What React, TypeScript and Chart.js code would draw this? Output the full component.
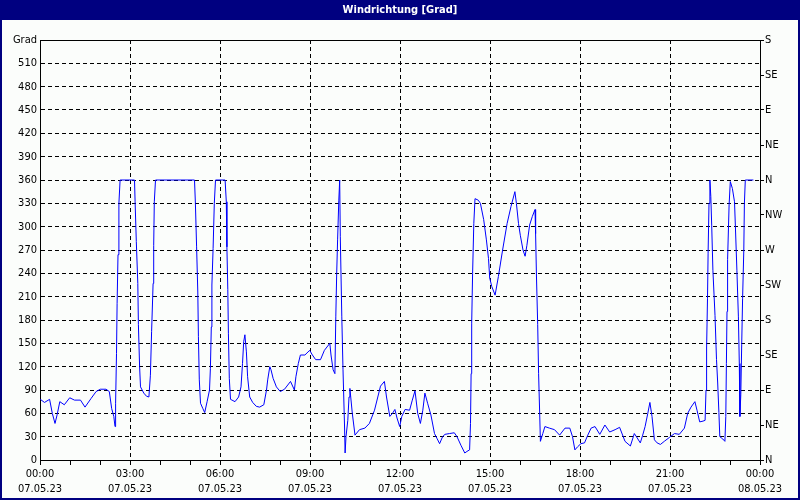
import React, { useEffect, useRef } from 'react';
import { Chart, registerables } from 'chart.js';

Chart.register(...registerables);

const TITLE = 'Windrichtung [Grad]';
const Y_UNIT = 'Grad';

const HOURS = [
  0.01, 0.15, 0.32, 0.41, 0.5, 0.57, 0.66, 0.81, 0.99, 1.15, 1.35, 1.5, 1.7, 1.87, 2.01, 2.2, 2.31, 2.39, 2.46, 2.5,
  2.52, 2.55, 2.57, 2.6, 2.63, 2.67, 3.15, 3.17, 3.21, 3.26, 3.28, 3.32, 3.35, 3.46, 3.55, 3.63, 3.68, 3.72, 3.77, 3.79,
  3.81, 3.85, 5.15, 5.18, 5.22, 5.26, 5.28, 5.31, 5.35, 5.43, 5.49, 5.57, 5.65, 5.68, 5.71, 5.73, 5.77, 5.81, 5.85, 6.17,
  6.21, 6.23, 6.26, 6.28, 6.31, 6.35, 6.5, 6.62, 6.7, 6.75, 6.79, 6.83, 6.88, 6.92, 6.99, 7.09, 7.21, 7.32, 7.46, 7.55,
  7.59, 7.66, 7.7, 7.77, 7.88, 8.01, 8.15, 8.35, 8.48, 8.53, 8.61, 8.68, 8.83, 8.99, 9.08, 9.19, 9.35, 9.48, 9.66, 9.7,
  9.77, 9.83, 9.86, 9.89, 9.92, 9.96, 9.99, 10.01, 10.06, 10.1, 10.15, 10.17, 10.2, 10.26, 10.3, 10.33, 10.41, 10.5, 10.65, 10.83,
  10.98, 11.15, 11.26, 11.35, 11.48, 11.55, 11.66, 11.75, 11.83, 11.9, 11.99, 12.06, 12.17, 12.32, 12.41, 12.5, 12.59, 12.68, 12.76, 12.83,
  12.92, 13.03, 13.15, 13.23, 13.32, 13.42, 13.5, 13.65, 13.81, 13.9, 14.03, 14.16, 14.23, 14.32, 14.35, 14.37, 14.39, 14.42, 14.46, 14.5,
  14.61, 14.68, 14.79, 14.88, 14.95, 14.99, 15.06, 15.17, 15.28, 15.42, 15.57, 15.7, 15.83, 15.88, 15.95, 16.01, 16.1, 16.17, 16.23, 16.32,
  16.41, 16.5, 16.52, 16.55, 16.59, 16.62, 16.66, 16.68, 16.76, 16.83, 16.98, 17.15, 17.32, 17.5, 17.66, 17.75, 17.83, 17.92, 18.03, 18.15,
  18.26, 18.37, 18.5, 18.66, 18.83, 18.99, 19.17, 19.32, 19.5, 19.68, 19.81, 19.88, 20.01, 20.09, 20.17, 20.26, 20.33, 20.4, 20.48, 20.57,
  20.68, 20.81, 20.98, 21.15, 21.31, 21.48, 21.59, 21.7, 21.83, 21.9, 21.99, 22.1, 22.17, 22.2, 22.22, 22.25, 22.27, 22.3, 22.33, 22.36,
  22.39, 22.43, 22.5, 22.55, 22.59, 22.63, 22.66, 22.76, 22.83, 22.86, 22.88, 22.9, 22.92, 22.97, 23.01, 23.08, 23.15, 23.18, 23.23, 23.28,
  23.31, 23.33, 23.36, 23.39, 23.42, 23.46, 23.48, 23.51, 23.78,
];

const DIRECTION = [
  78, 74, 78, 60, 47, 58, 75, 71, 80, 77, 77, 68, 79, 88, 91, 91, 88, 66, 56, 43,
  73, 137, 201, 264, 330, 360, 360, 332, 281, 227, 174, 120, 94, 86, 82, 81, 109, 165, 227, 276,
  332, 360, 360, 330, 274, 216, 159, 103, 73, 66, 61, 75, 90, 118, 171, 225, 272, 330, 360, 360,
  332, 274, 219, 163, 105, 78, 75, 81, 94, 124, 152, 161, 139, 107, 81, 74, 69, 68, 71, 90,
  103, 120, 116, 105, 94, 88, 91, 101, 90, 107, 124, 135, 135, 141, 135, 129, 129, 141, 150, 135,
  116, 111, 184, 240, 283, 334, 360, 287, 184, 116, 45, 9, 30, 51, 81, 92, 60, 32, 39, 41,
  47, 64, 81, 95, 101, 81, 56, 60, 65, 54, 43, 56, 65, 64, 77, 89, 60, 47, 64, 86,
  73, 58, 34, 28, 21, 30, 33, 34, 35, 30, 19, 9, 11, 13, 47, 111, 176, 240, 304, 336,
  334, 330, 309, 283, 259, 234, 223, 212, 236, 270, 304, 326, 345, 330, 304, 289, 270, 262, 276, 302,
  313, 322, 291, 234, 174, 111, 54, 24, 34, 43, 41, 39, 32, 41, 41, 30, 13, 17, 21, 22,
  32, 41, 43, 33, 45, 36, 39, 42, 24, 18, 34, 30, 22, 32, 43, 60, 74, 56, 26, 22,
  20, 24, 29, 34, 33, 41, 60, 68, 75, 64, 49, 50, 51, 90, 144, 208, 266, 330, 360, 339,
  302, 244, 186, 129, 99, 61, 30, 27, 24, 56, 124, 191, 258, 328, 358, 349, 332, 300, 244, 184,
  124, 56, 84, 148, 208, 270, 330, 360, 360,
];

const TIME_LABELS = ['00:00', '03:00', '06:00', '09:00', '12:00', '15:00', '18:00', '21:00', '00:00'];
const DATE_LABELS = ['07.05.23', '07.05.23', '07.05.23', '07.05.23', '07.05.23', '07.05.23', '07.05.23', '07.05.23', '08.05.23'];
const COMPASS_LABELS = ['N', 'NE', 'E', 'SE', 'S', 'SW', 'W', 'NW', 'N', 'NE', 'E', 'SE', 'S'];

const NAVY = '#000080';
const BG = '#fbfdfb';
const FONT = '"Liberation Sans Narrow", "DejaVu Sans Condensed", "Liberation Sans", sans-serif';

export default function App() {
  const ref = useRef<HTMLCanvasElement>(null);

  useEffect(() => {
    document.body.style.margin = '0';
    const canvas = ref.current;
    if (!canvas) return;

    const framePlugin = {
      id: 'frame',
      beforeDraw(chart: any) {
        const { ctx, width, height } = chart;
        ctx.save();
        ctx.fillStyle = BG;
        ctx.fillRect(0, 0, width, height);
        ctx.fillStyle = NAVY;
        ctx.fillRect(0, 0, width, 20);
        ctx.restore();
      },
      afterDraw(chart: any) {
        const { ctx, width, height, chartArea: a } = chart;
        ctx.save();
        ctx.strokeStyle = '#000';
        ctx.lineWidth = 1;
        ctx.beginPath();
        ctx.moveTo(a.left, Math.round(a.top) + 0.5);
        ctx.lineTo(a.right, Math.round(a.top) + 0.5);
        ctx.stroke();
        ctx.strokeStyle = NAVY;
        ctx.lineWidth = 2;
        ctx.strokeRect(1, 1, width - 2, height - 2);
        ctx.fillStyle = '#ffffff';
        ctx.font = 'bold 11px ' + FONT;
        ctx.textAlign = 'center';
        ctx.textBaseline = 'middle';
        ctx.fillText(TITLE, width / 2, 10);
        ctx.restore();
      },
    };

    const points = HOURS.map((h, i) => ({ x: h, y: DIRECTION[i] }));

    const chart = new Chart(canvas, {
      type: 'line',
      data: {
        datasets: [
          {
            data: points,
            borderColor: '#0000ff',
            borderWidth: 1,
            pointRadius: 0,
            tension: 0,
            fill: false,
          },
        ],
      },
      options: {
        animation: false,
        responsive: false,
        devicePixelRatio: 1,
        layout: { padding: { top: 40, left: 0, right: 0, bottom: 0 } },
        plugins: { legend: { display: false }, tooltip: { enabled: false }, title: { display: false } },
        font: { family: FONT, size: 11 },
        scales: {
          x: {
            type: 'linear',
            min: 0,
            max: 24,
            afterFit: (s: any) => { s.height = 40; },
            ticks: {
              stepSize: 1,
              autoSkip: false,
              maxRotation: 0,
              padding: 1,
              color: '#000',
              font: { family: FONT, size: 11, lineHeight: 1.4 },
              callback: (v: any) => {
                const n = Number(v);
                return n % 3 === 0 ? [TIME_LABELS[n / 3], DATE_LABELS[n / 3]] : '';
              },
            },
            grid: {
              color: (c: any) => (c.tick && c.tick.value % 3 === 0 ? '#000' : 'rgba(0,0,0,0)'),
              tickColor: '#000',
              tickLength: 5,
              lineWidth: 1,
            },
            border: { display: true, color: '#000', width: 1, dash: [4, 3] },
          },
          y: {
            type: 'linear',
            position: 'left',
            min: 0,
            max: 540,
            afterFit: (s: any) => { s.width = 40; },
            ticks: {
              stepSize: 30,
              padding: 3,
              color: '#000',
              font: { family: FONT, size: 11 },
              callback: (v: any) => (Number(v) === 540 ? Y_UNIT : String(v)),
            },
            grid: { color: '#000', drawTicks: false, lineWidth: 1 },
            border: { display: true, color: '#000', width: 1, dash: [4, 3] },
          },
          y2: {
            type: 'linear',
            position: 'right',
            min: 0,
            max: 540,
            afterFit: (s: any) => { s.width = 40; },
            ticks: {
              stepSize: 45,
              padding: 1,
              color: '#000',
              font: { family: FONT, size: 11 },
              callback: (v: any) => COMPASS_LABELS[Math.round(Number(v) / 45)],
            },
            grid: { drawOnChartArea: false, tickColor: '#000', tickLength: 4, color: '#000' },
            border: { display: true, color: '#000', width: 1 },
          },
        },
      } as any,
      plugins: [framePlugin],
    });

    return () => chart.destroy();
  }, []);

  return (
    <div style={{ position: 'absolute', left: 0, top: 0, width: 800, height: 500 }}>
      <canvas ref={ref} width={800} height={500} />
    </div>
  );
}
